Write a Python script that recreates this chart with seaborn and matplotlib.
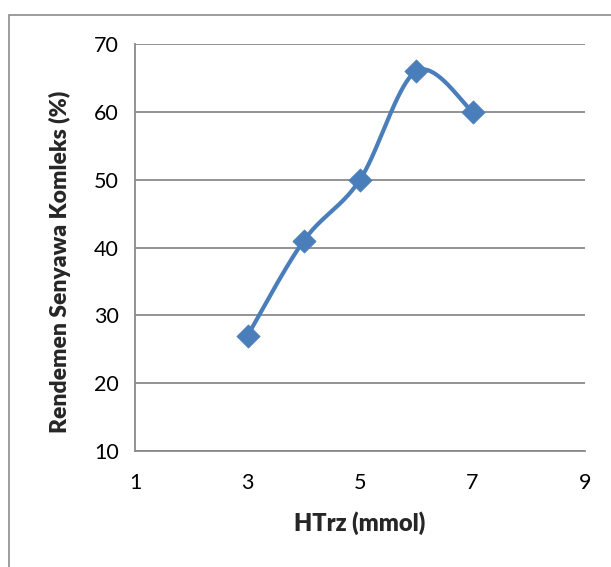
import numpy as np
import matplotlib
matplotlib.use("Agg")
import matplotlib.pyplot as plt
import seaborn as sns
import pandas as pd
from matplotlib.patches import Rectangle

x_vals = [3, 4, 5, 6, 7]
y_vals = [27, 41, 50, 66, 60]
x_ticks = [1, 3, 5, 7, 9]
y_ticks = [10, 20, 30, 40, 50, 60, 70]
x_label = "HTrz (mmol)"
y_label = "Rendemen Senyawa Komleks (%)"

sns.set_style("white")
plt.rcParams['font.family'] = ['Lato', 'DejaVu Sans']

W, H = 611, 567
fig = plt.figure(figsize=(W / 100, H / 100), dpi=100)
L, R, T, B = 135, 585, 44, 451
ax = fig.add_axes([L / W, 1 - B / H, (R - L) / W, (B - T) / H])

# figure border
fig.patches.append(Rectangle((9 / W, -0.1), 1.2, 1 - 15 / H + 0.1, transform=fig.transFigure,
                             fill=False, edgecolor="#8c8c8c", linewidth=1.2))

ax.set_xlim(1, 9)
ax.set_ylim(10, 70)
ax.set_xticks(x_ticks)
ax.set_yticks(y_ticks)
ax.yaxis.grid(True, color="#8a8a8a", linewidth=1.3)
ax.xaxis.grid(False)
ax.set_axisbelow(True)
for s in ["top", "right"]:
    ax.spines[s].set_visible(False)
for s in ["left", "bottom"]:
    ax.spines[s].set_color("#8a8a8a")
    ax.spines[s].set_linewidth(1.3)
ax.tick_params(axis="both", direction="out", length=6.5, width=1.3, color="#8a8a8a",
               labelsize=15.5, labelcolor="black")
ax.tick_params(axis="x", pad=9)
ax.tick_params(axis="y", pad=5)

# Excel-like smoothed curve (Catmull-Rom Bezier in display space)
fig.canvas.draw()
pts = ax.transData.transform(np.column_stack([x_vals, y_vals]))
n = len(pts)
curve = []
for i in range(n - 1):
    p0 = pts[i - 1] if i > 0 else pts[i]
    p1 = pts[i]
    p2 = pts[i + 1]
    p3 = pts[i + 2] if i + 2 < n else pts[i + 1]
    c1 = p1 + (p2 - p0) / 6
    c2 = p2 - (p3 - p1) / 6
    t = np.linspace(0, 1, 40)[:, None]
    seg = ((1 - t) ** 3) * p1 + 3 * ((1 - t) ** 2) * t * c1 + 3 * (1 - t) * t ** 2 * c2 + t ** 3 * p2
    curve.append(seg if i == 0 else seg[1:])
curve = np.vstack(curve)
curve_data = ax.transData.inverted().transform(curve)
df_curve = pd.DataFrame({"x": curve_data[:, 0], "y": curve_data[:, 1]})
ax.plot(df_curve["x"], df_curve["y"], color="#4a7ebb", linewidth=3.0, solid_capstyle="round", zorder=3)

df = pd.DataFrame({"x": x_vals, "y": y_vals})
sns.scatterplot(data=df, x="x", y="y", marker="D", s=140, color="#4a7ebb",
                edgecolor="#4a7ebb", linewidth=0.5, ax=ax, zorder=4)

ax.set_xlabel(x_label, fontsize=17, fontweight="heavy")
ax.set_ylabel(y_label, fontsize=16.5, fontweight="heavy")
ax.xaxis.set_label_coords(0.5, 1 - (523 - T) / (B - T))
ax.yaxis.set_label_coords((60 - L) / (R - L), 1 - (262 - T) / (B - T))
ax.xaxis.label.set_va("center")
ax.yaxis.label.set_va("center")

fig.savefig("out.png", dpi=100)
